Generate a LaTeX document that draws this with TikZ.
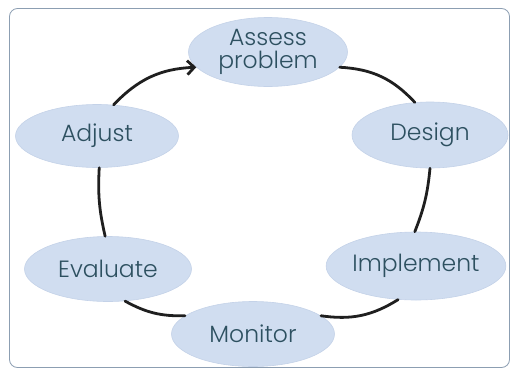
\documentclass[tikz,border=0pt]{standalone}
\usepackage{fontspec}
\setmainfont{Poppins}[UprightFont=* Light]
\usetikzlibrary{shapes.geometric,arrows.meta}
\definecolor{framecol}{RGB}{140,158,178}
\definecolor{bubblefill}{RGB}{208,221,240}
\definecolor{bubbleedge}{RGB}{196,210,232}
\definecolor{labelcol}{RGB}{45,80,96}
\tikzset{
  bubble/.style={ellipse, fill=bubblefill, draw=bubbleedge, line width=0.6pt,
    inner sep=0pt, minimum width=163pt, minimum height=66pt,
    text=labelcol, font=\fontsize{23.5}{22.5}\selectfont, align=center},
  link/.style={line width=2.8pt, draw=black!88, line cap=round},
}
\begin{document}
\begin{tikzpicture}[x=1pt, y=-1pt]
  \useasboundingbox (0,0) rectangle (511,370);
  % outer frame
  \draw[framecol, line width=0.8pt, rounded corners=8pt] (9.5,8.5) rectangle (509.5,367.5);
  % stages of the cycle
  \node[bubble, minimum width=159pt, minimum height=69pt] (assess) at (268,52) {Assess\\problem};
  \node[bubble, minimum width=156pt] (design) at (430,135) {Design};
  \node[bubble, minimum width=163pt, minimum height=63pt] (adjust) at (97,136) {Adjust};
  \node[bubble, minimum width=167pt, minimum height=65pt] (evaluate) at (108,269) {Evaluate};
  \node[bubble, minimum width=168pt, minimum height=68pt] (implement) at (416,266) {Implement};
  \node[bubble, minimum width=163pt, minimum height=65pt] (monitor) at (253,334) {Monitor};
  % connectors around the cycle
  \draw[link] (assess.-12) to[bend left=22] (design.115);
  \draw[link] (design.-90) to[bend left=8] (implement.92);
  \draw[link] (implement.-118) to[bend left=20] (monitor.15);
  \draw[link] (monitor.165) to[bend left=15] (evaluate.-62);
  \draw[link] (evaluate.95) to[bend left=8] (adjust.-86);
  \draw[link, -{Straight Barb[length=7pt, width=14pt, line width=2.8pt]}] (adjust.62) to[bend left=22] (assess.192);
\end{tikzpicture}
\end{document}
